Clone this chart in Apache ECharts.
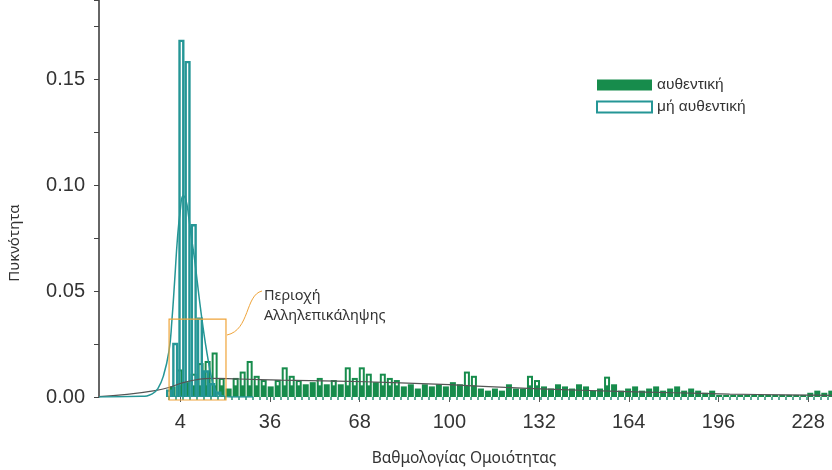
<!DOCTYPE html>
<html>
<head>
<meta charset="utf-8">
<script src="https://cdn.jsdelivr.net/npm/echarts@6/dist/echarts.min.js"></script>
<style>
  html, body { margin: 0; padding: 0; background: #ffffff; }
  #chart { width: 832px; height: 470px; }
</style>
</head>
<body>
<div id="chart"></div>
<script>
// Histogram of authentic scores: bins of equal width starting at authBinStart
const authBinStart = 0;
const authBinWidth = 2.5;
const authDensity = [
  0.005, 0.013, 0.007, 0.011, 0.016, 0.017, 0.021, 0.009, 0.004, 0.009,
  0.012, 0.017, 0.010, 0.008, 0.005, 0.008, 0.014, 0.010, 0.008, 0.006,
  0.007, 0.009, 0.006, 0.008, 0.006, 0.014, 0.009, 0.014, 0.011, 0.007,
  0.011, 0.009, 0.008, 0.005, 0.006, 0.004, 0.006, 0.005, 0.006, 0.005,
  0.007, 0.006, 0.012, 0.010, 0.004, 0.003, 0.004, 0.003, 0.006, 0.004,
  0.004, 0.010, 0.008, 0.005, 0.004, 0.006, 0.005, 0.004, 0.006, 0.005,
  0.003, 0.004, 0.0096, 0.006, 0.003, 0.004, 0.005, 0.003, 0.004, 0.005,
  0.003, 0.004, 0.005, 0.003, 0.004, 0.003, 0.002, 0.003, 0.001, 0.001,
  0.001, 0.001, 0.001, 0.001, 0.001, 0.001, 0.001, 0.001, 0.001, 0.001,
  0.001, 0.002, 0.003, 0.002, 0.003
];

// Histogram of non-authentic scores
const nonAuthBinStart = -1.1;
const nonAuthBinWidth = 2.2;
const nonAuthDensity = [0.003, 0.025, 0.168, 0.158, 0.081, 0.037, 0.012, 0.006, 0.002];

// Kernel density estimates [score, density]
const nonAuthKde = [
  [-25, 0], [-10, 0.0003], [-6, 0.0015], [-4, 0.004], [-2, 0.010], [0, 0.022],
  [1, 0.036], [2, 0.055], [3, 0.075], [4, 0.088], [5, 0.095], [6, 0.093],
  [7, 0.085], [8, 0.075], [9, 0.066], [10, 0.055], [11, 0.044], [12, 0.034],
  [13, 0.025], [14, 0.017], [15, 0.010], [16, 0.005], [18, 0.001], [22, 0], [30, 0]
];
const authKde = [
  [-25, 0.0002], [-15, 0.0012], [-5, 0.003], [0, 0.0045], [5, 0.0068], [10, 0.0082],
  [15, 0.0088], [25, 0.0085], [40, 0.008], [60, 0.0075], [80, 0.0068], [100, 0.0058],
  [120, 0.0045], [140, 0.0035], [160, 0.0027], [180, 0.002], [200, 0.0014],
  [220, 0.001], [236.5, 0.0008]
];

// Axis ticks
const xTickLabels = [4, 36, 68, 100, 132, 164, 196, 228];
const yTickLabels = [0, 0.05, 0.10, 0.15];

// Overlap region: [x from, x to, density top]
const overlapRegion = [0, 20.3, 0.0367];

const GREEN = '#178c4c';
const TEAL = '#259696';
const ORANGE = '#efa43a';
const FONT = 'Liberation Sans, Arial, sans-serif';
const FONT_TITLE = 'Noto Sans, sans-serif';

const authBins = authDensity.map((h, i) => [authBinStart + i * authBinWidth, authBinStart + (i + 1) * authBinWidth, h]);
const nonAuthBins = nonAuthDensity.map((h, i) => [nonAuthBinStart + i * nonAuthBinWidth, nonAuthBinStart + (i + 1) * nonAuthBinWidth, h]);
const authEdges = authBins.map(b => b[0]);

// Filled green bar with a hollow slit above the low-density band
function renderAuth(params, api) {
  const p0 = api.coord([api.value(0), 0]);
  const p1 = api.coord([api.value(1), api.value(2)]);
  const slitBottom = api.coord([0, 0.0055])[1];
  const x = p0[0] + 0.5, w = p1[0] - p0[0] - 1;
  const children = [{
    type: 'rect',
    shape: { x: x, y: p1[1], width: w, height: p0[1] - p1[1] },
    style: { fill: GREEN }
  }];
  if (slitBottom - p1[1] > 5) {
    children.push({
      type: 'rect',
      shape: { x: x + 2, y: p1[1] + 2, width: w - 4, height: slitBottom - p1[1] - 2 },
      style: { fill: '#ffffff' }
    });
  }
  return { type: 'group', children: children };
}

// Outlined teal bar, no fill
function renderNonAuth(params, api) {
  const p0 = api.coord([api.value(0), 0]);
  const p1 = api.coord([api.value(1), api.value(2)]);
  return {
    type: 'rect',
    shape: { x: p0[0] + 1.2, y: p1[1], width: p1[0] - p0[0] - 2.4, height: p0[1] - p1[1] },
    style: { fill: 'none', stroke: TEAL, lineWidth: 2.4 }
  };
}

function renderOverlap(params, api) {
  const p0 = api.coord([api.value(0), 0]);
  const p1 = api.coord([api.value(1), api.value(2)]);
  return {
    type: 'rect',
    shape: { x: p0[0], y: p1[1], width: p1[0] - p0[0], height: p0[1] - p1[1] + 3 },
    style: { fill: 'none', stroke: ORANGE, lineWidth: 1.2 }
  };
}

const chart = echarts.init(document.getElementById('chart'), null, { renderer: 'canvas' });

chart.setOption({
  backgroundColor: '#ffffff',
  animation: false,
  grid: { left: 99, right: 0, top: 0, bottom: 73 },
  legend: {
    orient: 'vertical',
    left: 596,
    top: 77,
    padding: 0,
    itemWidth: 55,
    itemHeight: 11,
    itemGap: 6,
    textStyle: { fontFamily: FONT, fontSize: 15.5, color: '#333', lineHeight: 11 },
    data: [
      { name: 'αυθεντική', icon: 'rect', itemStyle: { color: GREEN, borderWidth: 0 } },
      { name: 'μή αυθεντική', icon: 'rect', itemStyle: { color: '#ffffff', borderColor: TEAL, borderWidth: 2 } }
    ]
  },
  xAxis: [{
    type: 'value',
    min: -25,
    max: 236.5,
    axisLine: { show: false, onZero: false },
    splitLine: { show: false },
    axisTick: { show: true, customValues: xTickLabels, length: 5, lineStyle: { color: '#555', width: 1 } },
    axisLabel: {
      customValues: xTickLabels,
      margin: 15,
      fontFamily: FONT,
      fontSize: 20,
      color: '#333'
    }
  }, {
    type: 'value',
    min: -25,
    max: 236.5,
    position: 'bottom',
    axisLine: { show: false, onZero: false },
    splitLine: { show: false },
    axisLabel: { show: false },
    axisTick: { show: true, customValues: authEdges, length: 3, lineStyle: { color: '#2a8f74', width: 1.5 } }
  }],
  yAxis: {
    type: 'value',
    min: 0,
    max: 0.1873,
    interval: 0.025,
    axisLine: { show: true, onZero: false, lineStyle: { color: '#333', width: 1.5 } },
    axisTick: { show: true, length: 5, lineStyle: { color: '#444' } },
    splitLine: { show: false },
    axisLabel: {
      customValues: yTickLabels,
      formatter: v => v.toFixed(2),
      margin: 14,
      fontFamily: FONT,
      fontSize: 20,
      color: '#333'
    }
  },
  graphic: [
    {
      type: 'text', x: 15, y: 243, rotation: Math.PI / 2,
      style: { text: 'Πυκνότητα', fontFamily: FONT_TITLE, fontSize: 15, fill: '#333', align: 'center', verticalAlign: 'middle' }
    },
    {
      type: 'text', x: 464, y: 459,
      style: { text: 'Βαθμολογίας Ομοιότητας', fontFamily: FONT_TITLE, fontSize: 15.5, fill: '#333', align: 'center', verticalAlign: 'middle' }
    },
    {
      type: 'bezierCurve',
      shape: { x1: 227, y1: 335, x2: 262, y2: 291, cpx1: 250, cpy1: 330, cpx2: 245, cpy2: 295 },
      style: { stroke: ORANGE, lineWidth: 1, fill: 'none' }
    },
    {
      type: 'text', x: 264, y: 296,
      style: { text: 'Περιοχή', fontFamily: FONT_TITLE, fontSize: 14.5, fill: '#333', verticalAlign: 'middle' }
    },
    {
      type: 'text', x: 264, y: 316,
      style: { text: 'Αλληλεπικάληψης', fontFamily: FONT_TITLE, fontSize: 14.5, fill: '#333', verticalAlign: 'middle' }
    }
  ],
  series: [
    {
      name: 'αυθεντική',
      type: 'custom',
      renderItem: renderAuth,
      clip: true,
      itemStyle: { color: GREEN },
      encode: { x: [0, 1], y: 2 },
      data: authBins,
      z: 2
    },
    {
      name: 'μή αυθεντική',
      type: 'custom',
      renderItem: renderNonAuth,
      clip: true,
      itemStyle: { color: TEAL },
      encode: { x: [0, 1], y: 2 },
      data: nonAuthBins,
      z: 3
    },
    {
      name: 'overlap',
      type: 'custom',
      renderItem: renderOverlap,
      clip: false,
      encode: { x: [0, 1], y: 2 },
      data: [overlapRegion],
      z: 6
    },
    {
      name: 'kde-auth',
      type: 'line',
      data: authKde,
      smooth: true,
      showSymbol: false,
      lineStyle: { color: '#555', width: 1.2 },
      z: 4
    },
    {
      name: 'kde-nonauth',
      type: 'line',
      data: nonAuthKde,
      smooth: true,
      showSymbol: false,
      lineStyle: { color: TEAL, width: 1.5 },
      z: 5
    }
  ]
});
</script>
</body>
</html>
